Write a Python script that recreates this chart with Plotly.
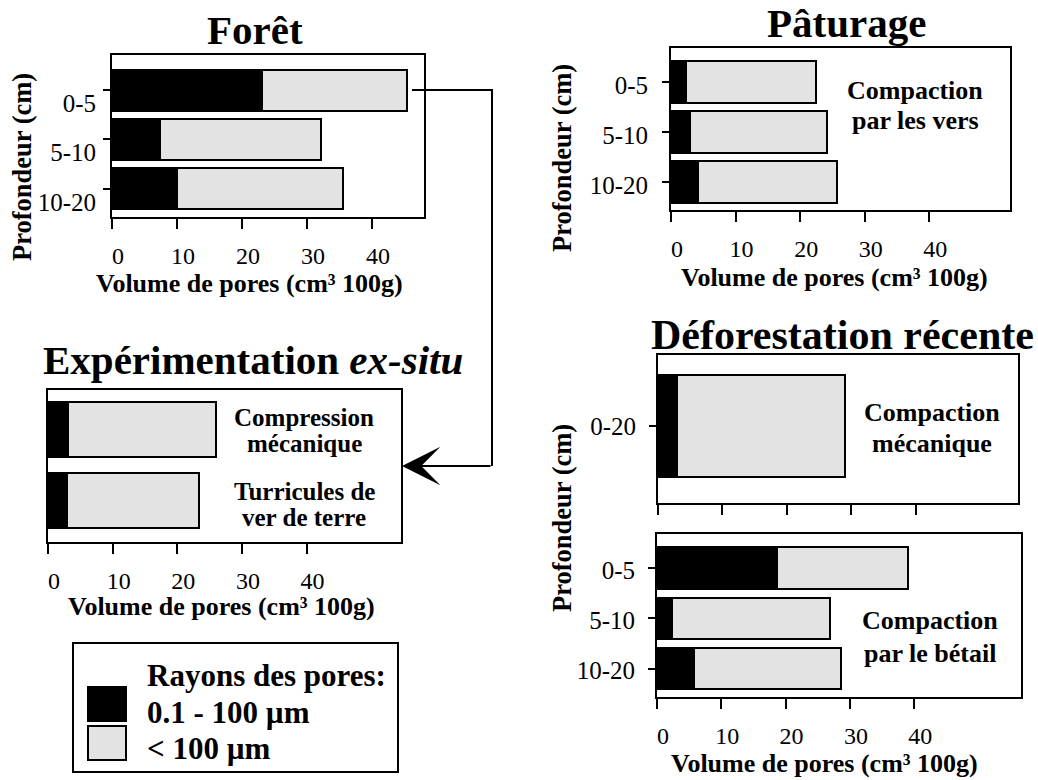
import plotly.graph_objects as go

W, H = 1038, 780
FONT = "Liberation Serif"
BLACK = "#000000"
GRAY = "#e3e3e3"

# ---------------- data ----------------
depth3 = ["0-5", "5-10", "10-20"]
depth1 = ["0-20"]
exp_cats = ["Compression mécanique", "Turricules de ver de terre"]

foret_fine = [23.1, 7.4, 10.0]      # 0.1 - 100 µm
foret_coarse = [22.3, 24.7, 25.5]   # < 100 µm
pat_fine = [2.3, 2.9, 4.2]
pat_coarse = [20.1, 21.3, 21.5]
exp_fine = [3.1, 2.9]
exp_coarse = [22.9, 20.5]
defm_fine = [2.9]
defm_coarse = [26.1]
defb_fine = [18.6, 2.3, 5.7]
defb_coarse = [20.4, 24.6, 22.9]

x_ticks = [0, 10, 20, 30, 40]
x_ticktext = ["0", "10", "20", "30", "40"]

titles = ["Forêt", "Pâturage", "Expérimentation <i>ex-situ</i>", "Déforestation récente"]
x_title = "Volume de pores (cm³ 100g)"
y_title = "Profondeur (cm)"
legend_title = "Rayons des pores:"
legend_labels = ["0.1 - 100 µm", "< 100 µm"]


def dx(px):
    return px / W


def dy(py):
    return 1 - py / H


fig = go.Figure()

panels = [
    # cats, fine, coarse, axis suffix, barwidth
    (depth3, foret_fine, foret_coarse, "", 0.83),
    (depth3, pat_fine, pat_coarse, "2", 0.83),
    (exp_cats, exp_fine, exp_coarse, "3", 0.775),
    (depth1, defm_fine, defm_coarse, "4", 0.8),
    (depth3, defb_fine, defb_coarse, "5", 0.82),
]

for cats, fine, coarse, sfx, bw in panels:
    for vals, col in ((fine, BLACK), (coarse, GRAY)):
        fig.add_trace(go.Bar(
            y=cats, x=vals, orientation="h", width=bw,
            marker=dict(color=col, line=dict(color=BLACK, width=2)),
            xaxis="x" + sfx, yaxis="y" + sfx, showlegend=False,
            hoverinfo="skip",
        ))

# domains in pixels: (left, right, top, bottom), x range max, y range (bottom, top)
geo = {
    "": (112, 424, 55, 217, 48.0, (2.57, -0.71)),
    "2": (671, 1010, 48, 210, 52.5, (2.56, -0.68)),
    "3": (48, 401, 390, 542, 54.6, (1.585, -0.556)),
    "4": (658, 1018, 355, 503, 55.9, (0.604, -0.557)),
    "5": (657, 1021, 534, 697, 56.6, (2.56, -0.67)),
}

layout = dict(
    width=W, height=H, margin=dict(l=0, r=0, t=0, b=0),
    paper_bgcolor="white", plot_bgcolor="white",
    barmode="stack", bargap=0,
    font=dict(family=FONT, color=BLACK, size=25),
)

ystand = {"": 2, "2": 9, "3": 0, "4": 8, "5": 8}
yshift = {"": -13, "2": -3, "3": 0, "4": 0, "5": -2}

for sfx, (l, r, t, b, xmax, yr) in geo.items():
    xa = dict(
        domain=[dx(l), dx(r)], range=[0, xmax], anchor="y" + sfx,
        showline=True, linecolor=BLACK, linewidth=2, mirror=True,
        showgrid=False, zeroline=False,
        ticks="outside", ticklen=10, tickwidth=2, tickcolor=BLACK,
        tickvals=x_ticks, ticktext=x_ticktext,
        tickfont=dict(family=FONT, size=24, color=BLACK),
        showticklabels=(sfx != "4"),
        ticklabelstandoff=6, ticklabelshift=6,
        fixedrange=True,
    )
    ya = dict(
        domain=[dy(b), dy(t)], range=list(yr), anchor="x" + sfx,
        type="category",
        showline=True, linecolor=BLACK, linewidth=2, mirror=True,
        showgrid=False, zeroline=False,
        ticks="" if sfx == "3" else "outside", ticklen=7, tickwidth=2, tickcolor=BLACK,
        tickfont=dict(family=FONT, size=25, color=BLACK),
        showticklabels=(sfx != "3"),
        ticklabelstandoff=ystand[sfx], ticklabelshift=yshift[sfx],
        fixedrange=True,
    )
    layout["xaxis" + sfx] = xa
    layout["yaxis" + sfx] = ya

fig.update_layout(**layout)

ann = []


def text(s, x, y, size, bold=True, xanchor="center", angle=0):
    ann.append(dict(
        text=("<b>%s</b>" % s) if bold else s,
        x=dx(x), y=dy(y), xref="paper", yref="paper",
        xanchor=xanchor, yanchor="middle", showarrow=False, textangle=angle,
        font=dict(family=FONT, size=size, color=BLACK),
    ))


# panel titles
text(titles[0], 255, 30, 41)
text(titles[1], 846, 23, 41)
text(titles[2], 253, 360, 41)
text(titles[3], 842, 335, 42)

# axis titles
text(x_title, 249, 283, 26)
text(x_title, 834, 277, 26)
text(x_title, 221, 606, 26)
text(x_title, 824, 763, 26)
text(y_title, 22, 167, 26.5, angle=-90)
text(y_title, 562, 158, 26.5, angle=-90)
text(y_title, 562, 518, 26.5, angle=-90)

# in-panel notes
notes = [
    ("Compaction", 915, 90, 26), ("par les vers", 915, 120, 26),
    ("Compression", 304, 417, 25), ("mécanique", 304, 443, 25),
    ("Turricules de", 304, 491, 25), ("ver de terre", 304, 517, 25),
    ("Compaction", 932, 412, 26), ("mécanique", 932, 443, 26),
    ("Compaction", 930, 620, 26), ("par le bétail", 930, 653, 26),
]
for s, x, y, sz in notes:
    text(s, x, y, sz)

# legend texts
text(legend_title, 145, 675, 31, xanchor="left")
text(legend_labels[0], 145, 712, 31, xanchor="left")
text(legend_labels[1], 145, 748, 31, xanchor="left")

# arrow final segment with head
ann.append(dict(
    x=dx(402), y=dy(466), xref="paper", yref="paper",
    ax=90, ay=0, axref="pixel", ayref="pixel",
    text="", showarrow=True, arrowhead=3, arrowsize=3.2, arrowwidth=2,
    arrowcolor=BLACK, standoff=0,
))

fig.update_layout(annotations=ann)

shapes = [
    dict(type="path", xref="paper", yref="paper",
         path="M %f %f L %f %f L %f %f" % (dx(412), dy(90), dx(492), dy(90), dx(492), dy(466)),
         line=dict(color=BLACK, width=2)),
    dict(type="rect", xref="paper", yref="paper",
         x0=dx(73), x1=dx(398), y0=dy(772), y1=dy(643),
         line=dict(color=BLACK, width=2), fillcolor="white", layer="below"),
    dict(type="rect", xref="paper", yref="paper",
         x0=dx(88), x1=dx(126), y0=dy(721), y1=dy(687),
         line=dict(color=BLACK, width=2), fillcolor=BLACK),
    dict(type="rect", xref="paper", yref="paper",
         x0=dx(88), x1=dx(126), y0=dy(760), y1=dy(726),
         line=dict(color=BLACK, width=2), fillcolor=GRAY),
]
fig.update_layout(shapes=shapes)

fig.write_html(
    "out.html",
    config={"displayModeBar": False},
    post_script="document.body.style.margin='0';document.body.style.overflow='hidden';",
)
